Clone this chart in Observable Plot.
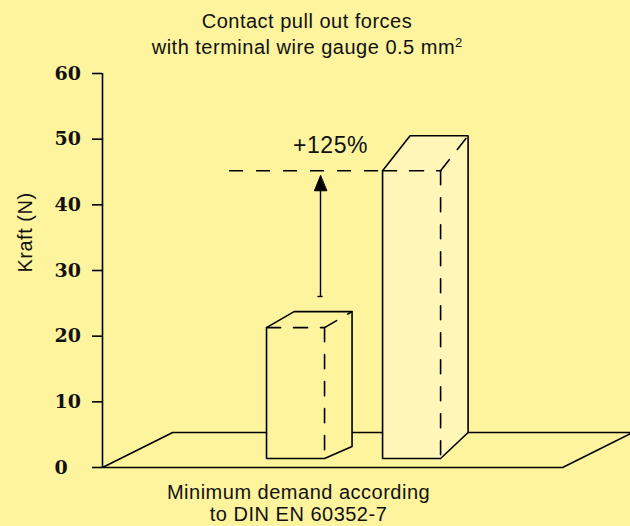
<!DOCTYPE html>
<html>
<head>
<meta charset="utf-8">
<script src="https://cdn.jsdelivr.net/npm/d3@7"></script>
<script src="https://cdn.jsdelivr.net/npm/@observablehq/plot@0.6"></script>
<style>
  html, body { margin: 0; padding: 0; background: #fef49e; }
  #wrap { width: 630px; height: 526px; position: relative; overflow: hidden; background: #fef49e;
          font-family: "Liberation Sans", Arial, sans-serif; color: #111; }
  #title { height: 62px; box-sizing: border-box; padding-top: 8px; padding-right: 16px; text-align: center;
           font-size: 20px; line-height: 26px; letter-spacing: 0.5px; }
  #title sup { font-size: 13px; line-height: 0; vertical-align: 7px; letter-spacing: 0; }
  #wrap svg text { letter-spacing: 0.5px; }
  #wrap svg g[aria-label="y-axis tick label"] text { letter-spacing: 0; }
</style>
</head>
<body>
<div id="wrap">
  <div id="title"></div>
  <div id="chart"></div>
</div>
<script>
// ---- data ----
const titleLines = ["Contact pull out forces", "with terminal wire gauge 0.5 mm"];
const titleSup = "2";
const categories = ["Minimum demand according\nto DIN EN 60352-7", ""];
const forces = [21.3, 45.2];          // Kraft (N), front top of each bar
const increaseLabel = "+125%";
const yTicks = [0, 10, 20, 30, 40, 50, 60];
const yLabel = "Kraft (N)";

// ---- pseudo-3D geometry & styles (in data units) ----
const G = {
  x0: 2.827, step: 2, w: 1, dx: 0.474, base: 1.37,
  topDepth: [2.44, 5.33], baseDepth: [1.83, 3.96],
  floorFront: 7.93, floorShift: 1.21, floorDepth: 5.33,
  arrowX: 3.757, arrowFrom: 26.04, tipGap: 0.76, headLen: 2.3, headHalf: 0.105, cap: 0.045,
  refStart: 2.19
};
const barFills = ["#fef49e", "#fff6b8"];
const ink = "#000";
const dash = "14,13";

document.getElementById("title").innerHTML =
  titleLines[0] + "<br>" + titleLines[1] + "<sup>" + titleSup + "</sup>";

const P = ([x, y]) => ({x, y});

// floor parallelogram
const floor = [[0, 0], [G.floorFront, 0], [G.floorFront + G.floorShift, G.floorDepth], [G.floorShift, G.floorDepth]].map(P);

// bars
const barMarks = [];
const dashedSegs = [];
forces.forEach((T, i) => {
  const L = G.x0 + i * G.step, R = L + G.w, B = G.base, td = G.topDepth[i], bd = G.baseDepth[i], d = G.dx;
  const hex = [[L, B], [R, B], [R + d, B + bd], [R + d, T + td], [L + d, T + td], [L, T]].map(P);
  barMarks.push(Plot.line(hex, {x: "x", y: "y", curve: "linear-closed", fill: barFills[i], stroke: ink, strokeWidth: 1.6, strokeLinejoin: "miter"}));
  [[[L, T], [R, T]], [[R, T], [R, B]], [[R, T], [R + d, T + td]]].forEach((s, k) => {
    s.forEach(p => dashedSegs.push({x: p[0], y: p[1], seg: i * 10 + k}));
  });
});

const tip = forces[1] - G.tipGap;
const headBase = tip - G.headLen;
const head = [[G.arrowX, tip], [G.arrowX - G.headHalf, headBase], [G.arrowX + G.headHalf, headBase]].map(P);

const labelData = categories.map((c, i) => ({c, i})).filter(d => d.c);

const chart = Plot.plot({
  width: 630, height: 464,
  marginLeft: 102, marginRight: 0, marginTop: 11, marginBottom: 59,
  x: {domain: [0, 9.1], axis: null},
  y: {domain: [0, 60]},
  style: {background: "transparent", fontFamily: "'Liberation Sans', Arial, sans-serif", color: "#111", overflow: "hidden"},
  marks: [
    Plot.line(floor, {x: "x", y: "y", curve: "linear-closed", fill: "none", stroke: ink, strokeWidth: 1.6}),
    ...barMarks,
    Plot.line(dashedSegs, {x: "x", y: "y", z: "seg", stroke: ink, strokeWidth: 1.6, strokeDasharray: dash}),
    Plot.ruleY([forces[1]], {x1: G.refStart, x2: G.x0 + G.step, stroke: ink, strokeWidth: 1.6, strokeDasharray: dash}),
    Plot.ruleX([G.arrowX], {y1: G.arrowFrom, y2: headBase + 0.2, stroke: ink, strokeWidth: 1.4}),
    Plot.ruleY([G.arrowFrom], {x1: G.arrowX - G.cap, x2: G.arrowX + G.cap, stroke: ink, strokeWidth: 1.4}),
    Plot.line(head, {x: "x", y: "y", curve: "linear-closed", fill: ink, stroke: ink, strokeWidth: 1}),
    Plot.ruleX([0], {y1: 0, y2: 60, stroke: ink, strokeWidth: 1.6}),
    Plot.axisY({ticks: yTicks, tickFormat: d => String(d), tickSize: 10, tickPadding: 38, textAnchor: "start",
      fontFamily: "'DejaVu Serif', serif", fontWeight: "bold", fontSize: 19, stroke: ink, strokeWidth: 1.6, fill: "#111", label: null}),
    Plot.text([yLabel], {text: d => d, frameAnchor: "left", rotate: -90, dx: -77, dy: 2, fontSize: 20, fill: "#111"}),
    Plot.text([increaseLabel], {text: d => d, x: () => G.arrowX, y: () => forces[1], dx: 10, dy: -18, lineAnchor: "bottom", fontSize: 23, fill: "#111"}),
    Plot.text(labelData, {text: "c", x: d => G.x0 + d.i * G.step + G.w / 2, y: () => 0, dx: 3, dy: 53.7,
      lineAnchor: "bottom", lineHeight: 1.1, fontSize: 20, fill: "#111"})
  ]
});
document.getElementById("chart").appendChild(chart);
</script>
</body>
</html>
